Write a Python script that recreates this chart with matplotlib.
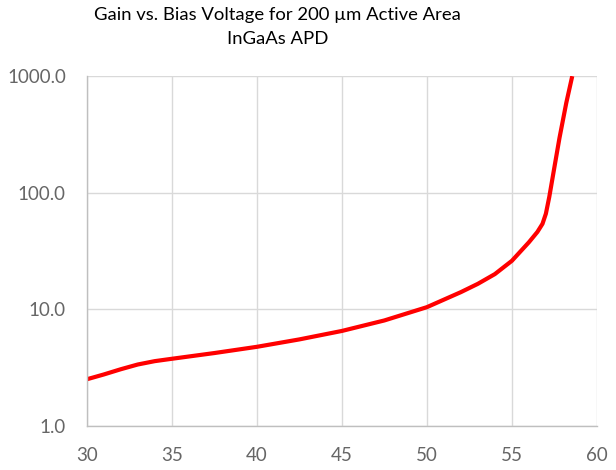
import matplotlib
matplotlib.use("Agg")
import matplotlib.pyplot as plt
from matplotlib.ticker import FixedLocator, FormatStrFormatter, NullLocator

# bias voltage (V) and gain
voltage = [30, 31, 32, 33, 34, 35, 37.5, 40, 42.5, 45, 47.5, 50, 52, 53, 54, 55,
           56, 56.5, 56.8, 57.0, 57.2, 57.5, 57.8, 58.2, 58.55]
gain = [2.5, 2.75, 3.05, 3.35, 3.58, 3.75, 4.2, 4.75, 5.5, 6.5, 8.0, 10.4, 14, 16.5, 20, 26,
        37.5, 46, 54, 66, 92, 165, 295, 590, 1000]

x_ticks = [30, 35, 40, 45, 50, 55, 60]
y_ticks = [1, 10, 100, 1000]
title = "Gain vs. Bias Voltage for 200 µm Active Area\nInGaAs APD"

plt.rcParams['font.family'] = ['Lato', 'DejaVu Sans']

fig = plt.figure(figsize=(6.16, 4.70), dpi=100)
ax = fig.add_axes([0.1408, 0.0943, 0.969 - 0.1408, 0.838 - 0.0943])

ax.plot(voltage, gain, color='#ff0000', linewidth=3, solid_capstyle='butt')

ax.set_yscale('log')
ax.set_xlim(30, 60)
ax.set_ylim(1, 1000)
ax.xaxis.set_major_locator(FixedLocator(x_ticks))
ax.yaxis.set_major_locator(FixedLocator(y_ticks))
ax.yaxis.set_minor_locator(NullLocator())
ax.yaxis.set_major_formatter(FormatStrFormatter('%.1f'))

ax.grid(True, color='#d9d9d9', linewidth=1)
ax.set_axisbelow(True)
for s in ['top', 'right']:
    ax.spines[s].set_visible(False)
for s in ['left', 'bottom']:
    ax.spines[s].set_color('#bfbfbf')
    ax.spines[s].set_linewidth(1)

ax.tick_params(length=0, labelsize=13.5, labelcolor='#666666')
ax.tick_params(axis='x', pad=15)
ax.tick_params(axis='y', pad=15)

fig.text(0.45, 0.985, title, ha='center', va='top', fontsize=13.3,
         color='#000000', linespacing=1.6)

fig.savefig("out.png", dpi=100)
